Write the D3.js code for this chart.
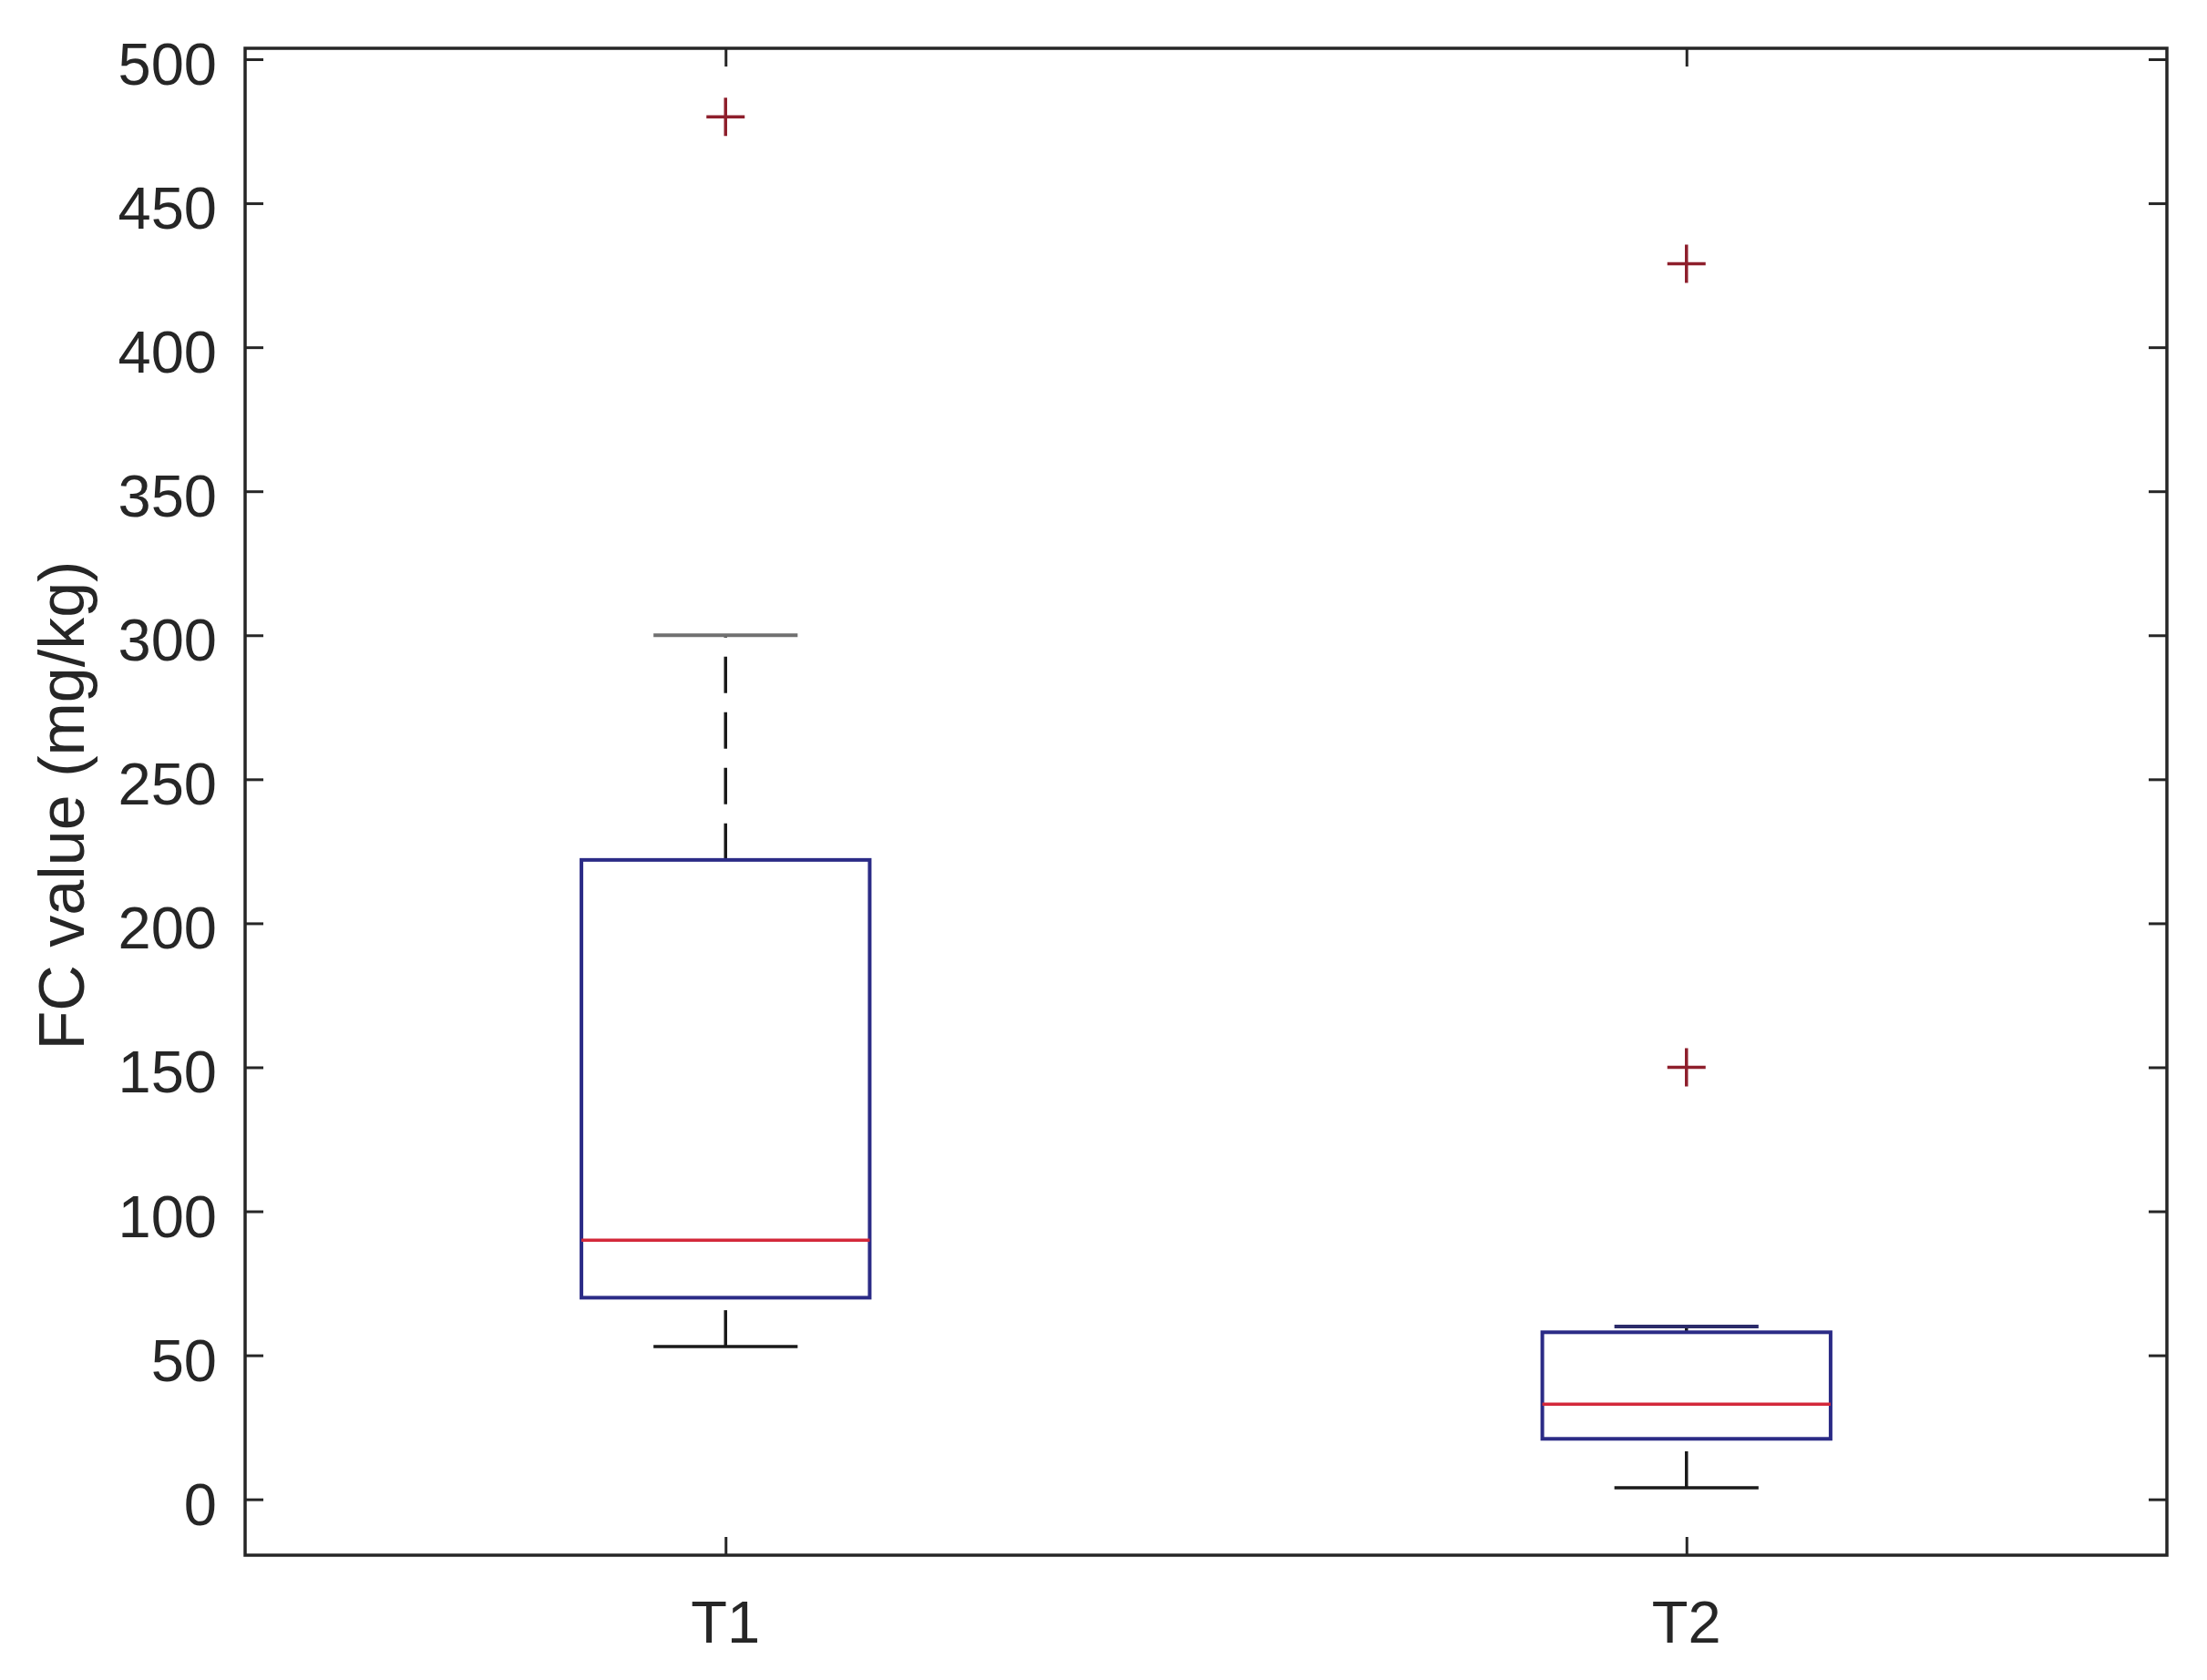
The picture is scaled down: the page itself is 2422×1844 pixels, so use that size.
<!DOCTYPE html>
<html>
<head>
<meta charset="utf-8">
<script src="https://cdn.jsdelivr.net/npm/d3@7"></script>
<style>
  html, body { margin: 0; padding: 0; background: #ffffff; }
  svg { display: block; }
</style>
</head>
<body>
<svg id="chart" width="2422" height="1844"></svg>
<script>
// ---- data ----
const categories = ["T1", "T2"];
const lowerWhisker = [53, 4];
const q1 = [70, 21];
const median = [90, 33];
const q3 = [222, 58];
const upperWhisker = [300, 60];
const outliers = [[480], [429, 150]];
const yTicks = [0, 50, 100, 150, 200, 250, 300, 350, 400, 450, 500];
const yDomain = [-19.4, 503.8];
const yLabel = "FC value (mg/kg)";

// ---- layout ----
const W = 2422, H = 1844;
const L = 269, R = 2378, T = 53, B = 1707;
const svg = d3.select("#chart");

const x = d3.scaleLinear().domain([0.5, categories.length + 0.5]).range([L, R]);
const y = d3.scaleLinear().domain(yDomain).range([B, T]);

const axisColor = "#262626";
const boxColor = "#2b2b86";
const medianColor = "#d3283a";
const outlierColor = "#8e1f2c";
const boxW = 0.3, capW = 0.15;
const tickLen = 20;
const fontFam = "'Liberation Sans', Arial, Helvetica, sans-serif";

// frame
svg.append("rect")
  .attr("x", L).attr("y", T).attr("width", R - L).attr("height", B - T)
  .attr("fill", "none").attr("stroke", axisColor).attr("stroke-width", 3.5);

// y axis (left) via d3 axis with inward ticks
const yAxisL = d3.axisRight(y).tickValues(yTicks).tickSize(tickLen).tickFormat("");
const gL = svg.append("g").attr("transform", `translate(${L},0)`).call(yAxisL);
gL.select(".domain").remove();
gL.selectAll(".tick line").attr("stroke", axisColor).attr("stroke-width", 3);

const yAxisR = d3.axisLeft(y).tickValues(yTicks).tickSize(tickLen).tickFormat("");
const gR = svg.append("g").attr("transform", `translate(${R},0)`).call(yAxisR);
gR.select(".domain").remove();
gR.selectAll(".tick line").attr("stroke", axisColor).attr("stroke-width", 3);

// y tick labels
svg.append("g").selectAll("text").data(yTicks).join("text")
  .attr("x", L - 31)
  .attr("y", d => y(d) + 28)
  .attr("text-anchor", "end")
  .attr("font-family", fontFam)
  .attr("font-size", 65)
  .attr("fill", axisColor)
  .text(d => d);

// x axis ticks (bottom and top, inward)
const xIdx = categories.map((c, i) => i + 1);
const xAxisB = d3.axisTop(x).tickValues(xIdx).tickSize(tickLen).tickFormat("");
const gB = svg.append("g").attr("transform", `translate(0,${B})`).call(xAxisB);
gB.select(".domain").remove();
gB.selectAll(".tick line").attr("stroke", axisColor).attr("stroke-width", 3);
const xAxisT = d3.axisBottom(x).tickValues(xIdx).tickSize(tickLen).tickFormat("");
const gT = svg.append("g").attr("transform", `translate(0,${T})`).call(xAxisT);
gT.select(".domain").remove();
gT.selectAll(".tick line").attr("stroke", axisColor).attr("stroke-width", 3);

// x tick labels
svg.append("g").selectAll("text").data(categories).join("text")
  .attr("x", (d, i) => x(i + 1))
  .attr("y", 1803)
  .attr("text-anchor", "middle")
  .attr("font-family", fontFam)
  .attr("font-size", 65)
  .attr("fill", axisColor)
  .text(d => d);

// y label
svg.append("text")
  .attr("transform", `translate(92,${(T + B) / 2 + 4}) rotate(-90)`)
  .attr("text-anchor", "middle")
  .attr("font-family", fontFam)
  .attr("font-size", 70)
  .attr("fill", axisColor)
  .text(yLabel);

// boxes
const g = svg.append("g");
categories.forEach((c, i) => {
  const cx = i + 1;
  // upper whisker: from q3 up to upper adjacent
  g.append("line")
    .attr("x1", x(cx)).attr("x2", x(cx))
    .attr("y1", y(q3[i])).attr("y2", y(upperWhisker[i]))
    .attr("stroke", "#1a1a1a").attr("stroke-width", 3.5)
    .attr("stroke-dasharray", "40,21");
  // lower whisker: from lower adjacent up to q1
  g.append("line")
    .attr("x1", x(cx)).attr("x2", x(cx))
    .attr("y1", y(lowerWhisker[i])).attr("y2", y(q1[i]))
    .attr("stroke", "#1a1a1a").attr("stroke-width", 3.5)
    .attr("stroke-dasharray", "40,21");
  // caps
  g.append("line")
    .attr("x1", x(cx - capW / 2)).attr("x2", x(cx + capW / 2))
    .attr("y1", y(upperWhisker[i])).attr("y2", y(upperWhisker[i]))
    .attr("stroke", i === 0 ? "#707070" : "#2b2b6a").attr("stroke-width", 4);
  g.append("line")
    .attr("x1", x(cx - capW / 2)).attr("x2", x(cx + capW / 2))
    .attr("y1", y(lowerWhisker[i])).attr("y2", y(lowerWhisker[i]))
    .attr("stroke", "#1a1a1a").attr("stroke-width", 3.5);
  // box
  g.append("rect")
    .attr("x", x(cx - boxW / 2)).attr("width", x(cx + boxW / 2) - x(cx - boxW / 2))
    .attr("y", y(q3[i])).attr("height", y(q1[i]) - y(q3[i]))
    .attr("fill", "none").attr("stroke", boxColor).attr("stroke-width", 4);
  // median
  g.append("line")
    .attr("x1", x(cx - boxW / 2)).attr("x2", x(cx + boxW / 2))
    .attr("y1", y(median[i])).attr("y2", y(median[i]))
    .attr("stroke", medianColor).attr("stroke-width", 3.5);
  // outliers
  outliers[i].forEach(v => {
    const px = x(cx), py = y(v), s = 21;
    g.append("path")
      .attr("d", `M${px - s},${py}H${px + s}M${px},${py - s}V${py + s}`)
      .attr("stroke", outlierColor).attr("stroke-width", 3.5).attr("fill", "none");
  });
});
</script>
</body>
</html>
